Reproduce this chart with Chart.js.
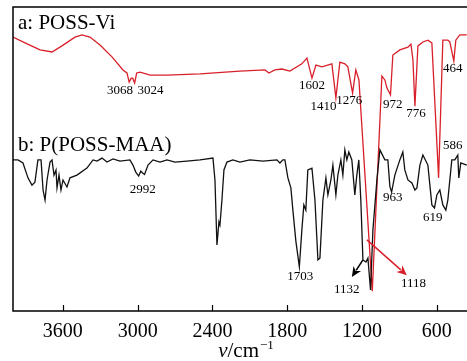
<!DOCTYPE html>
<html>
<head>
<meta charset="utf-8">
<script src="https://cdn.jsdelivr.net/npm/chart.js@4.4.1/dist/chart.umd.min.js"></script>
<style>
  html, body { margin: 0; padding: 0; background: #fff; overflow: hidden; }
  #wrap { position: relative; width: 478px; height: 361px; }
</style>
</head>
<body>
<div id="wrap"><canvas id="ftir"></canvas></div>
<script>
// a: POSS-Vi (red) — wavenumber (cm-1) / transmittance (a.u.)
const vinylWave = [4000, 3904, 3783, 3687, 3607, 3503, 3447, 3383, 3302, 3206, 3118, 3086, 3068, 3052, 3040, 3024, 3008, 2980,
  2900, 2765, 2500, 2180, 1979, 1947, 1899, 1843, 1779, 1683, 1642, 1602, 1570, 1522, 1442, 1410, 1378, 1338, 1314, 1276,
  1250, 1225, 1118, 1041, 1017, 1001, 972, 953, 897, 832, 808, 792, 776, 752, 712, 672, 640, 586, 552, 512, 496, 464, 448, 416, 360];
const vinylT = [90.1, 88.2, 85.9, 85.2, 87.2, 90.1, 90.8, 90.1, 87.5, 83.6, 79.3, 78.3, 75.3, 76.6, 76.6, 75.0, 78.3, 78.6,
  77.6, 77.6, 78.0, 78.9, 79.3, 78.3, 79.3, 79.6, 78.9, 81.3, 83.2, 76.6, 80.9, 80.3, 81.3, 70.1, 81.9, 81.3, 80.3, 71.7,
  79.3, 76.0, 6.5, 77.3, 76.0, 73.4, 71.1, 84.2, 85.9, 86.8, 87.8, 82.6, 67.4, 87.2, 88.5, 89.1, 88.2, 43.8, 89.1, 89.1, 88.5, 82.2, 89.1, 90.8, 90.8];

// b: P(POSS-MAA) (black)
const polyWave = [4000, 3960, 3920, 3880, 3848, 3824, 3800, 3775, 3759, 3743, 3727, 3703, 3687, 3671, 3655, 3647, 3631, 3615,
  3599, 3567, 3543, 3487, 3407, 3358, 3326, 3286, 3246, 3198, 3142, 3062, 3038, 3015, 2992, 2975, 2960, 2945, 2917, 2877,
  2821, 2765, 2701, 2605, 2500, 2396, 2380, 2364, 2348, 2340, 2324, 2308, 2284, 2236, 2180, 2100, 1995, 1883, 1859, 1835,
  1819, 1795, 1771, 1755, 1731, 1703, 1683, 1667, 1651, 1635, 1602, 1578, 1554, 1538, 1514, 1490, 1474, 1450, 1434, 1410,
  1394, 1370, 1354, 1338, 1322, 1306, 1282, 1258, 1242, 1226, 1210, 1193, 1169, 1153, 1132, 1113, 1081, 1057, 1017, 993,
  977, 963, 937, 897, 873, 857, 832, 800, 776, 760, 736, 712, 672, 640, 619, 600, 576, 552, 528, 512, 480, 456, 432, 424, 408, 360];
const polyT = [49.7, 49.7, 48.7, 43.8, 41.4, 42.4, 49.7, 49.7, 39.8, 36.5, 43.1, 49.0, 49.7, 44.7, 46.4, 40.5, 44.7, 39.8,
  43.1, 40.8, 43.8, 44.7, 47.0, 49.7, 49.3, 50.3, 49.0, 50.0, 49.3, 49.7, 48.0, 45.7, 44.4, 46.0, 45.4, 44.9, 48.0, 49.7,
  49.0, 49.7, 49.0, 49.3, 49.7, 50.3, 43.1, 21.7, 29.3, 28.3, 36.5, 46.4, 49.0, 49.7, 49.0, 49.7, 49.3, 49.7, 48.7, 49.7,
  49.7, 43.8, 40.5, 33.2, 23.0, 14.5, 26.6, 34.9, 33.2, 46.4, 47.0, 36.5, 16.8, 17.4, 36.5, 43.8, 38.2, 43.1, 48.0, 38.2,
  44.7, 49.7, 44.7, 53.0, 49.7, 52.3, 49.7, 38.2, 44.7, 49.7, 36.5, 16.8, 16.1, 17.4, 6.9, 26.6, 43.1, 53.0, 49.7, 49.7,
  41.0, 39.1, 44.7, 49.7, 52.3, 46.4, 43.1, 42.1, 39.8, 40.5, 48.0, 51.3, 48.0, 34.9, 33.9, 38.2, 39.8, 34.9, 33.2, 36.5, 49.7, 49.7, 51.3, 43.8, 48.7, 48.0];

const xTicks = [3600, 3000, 2400, 1800, 1200, 600];

// peak labels and where they sit (wavenumber, transmittance)
const vinylPeaks = ['3068', '3024', '1602', '1410', '1276', '972', '776', '464', '586'];
const vinylPeakSpots = [[3142, 72.5], [2897, 72.5], [1602, 74.3], [1510, 67.1], [1302, 69.1], [953, 67.8], [768, 64.8], [472, 79.9], [472, 54.3]];
const polyPeaks = ['2992', '1703', '1132', '1118', '963', '619'];
const polyPeakSpots = [[2960, 40.0], [1695, 11.2], [1322, 7.2], [788, 8.9], [953, 37.2], [632, 30.6]];

const RED = '#d9202a';
const SERIF = '"Liberation Serif", "Times New Roman", serif';

function toPoints(xs, ys) {
  return xs.map((x, i) => ({ x: x, y: ys[i] }));
}

// frame, inward ticks, text annotations, arrows and axis title
const decorations = {
  id: 'decorations',
  afterDraw(chart) {
    const { ctx, chartArea: a, scales: { x, y } } = chart;
    ctx.save();
    ctx.strokeStyle = '#000';
    ctx.lineWidth = 1.5;
    ctx.beginPath();
    ctx.moveTo(a.right, a.top);
    ctx.lineTo(a.left, a.top);
    ctx.lineTo(a.left, a.bottom);
    ctx.lineTo(a.right, a.bottom);
    ctx.stroke();

    ctx.lineWidth = 1.2;
    xTicks.forEach(t => {
      const px = Math.round(x.getPixelForValue(t)) + 0.5;
      ctx.beginPath();
      ctx.moveTo(px, a.bottom);
      ctx.lineTo(px, a.bottom - 6);
      ctx.stroke();
    });

    ctx.fillStyle = '#000';
    ctx.textAlign = 'left';
    ctx.textBaseline = 'alphabetic';
    ctx.font = '21px ' + SERIF;
    ctx.fillText('a: POSS-Vi', a.left + 5, y.getPixelForValue(92.8));
    ctx.fillText('b: P(POSS-MAA)', a.left + 5, y.getPixelForValue(52.6));

    ctx.font = '13px ' + SERIF;
    ctx.textAlign = 'center';
    ctx.textBaseline = 'middle';
    vinylPeaks.forEach((txt, i) => {
      const s = vinylPeakSpots[i];
      ctx.fillText(txt, x.getPixelForValue(s[0]), y.getPixelForValue(s[1]));
    });
    polyPeaks.forEach((txt, i) => {
      const s = polyPeakSpots[i];
      ctx.fillText(txt, x.getPixelForValue(s[0]), y.getPixelForValue(s[1]));
    });

    const arrow = (from, to, color) => {
      const x0 = x.getPixelForValue(from[0]), y0 = y.getPixelForValue(from[1]);
      const x1 = x.getPixelForValue(to[0]), y1 = y.getPixelForValue(to[1]);
      const ang = Math.atan2(y1 - y0, x1 - x0);
      const len = 10, half = 4.5;
      ctx.strokeStyle = color;
      ctx.fillStyle = color;
      ctx.lineWidth = 1.5;
      ctx.beginPath();
      ctx.moveTo(x0, y0);
      ctx.lineTo(x1 - Math.cos(ang) * len * 0.8, y1 - Math.sin(ang) * len * 0.8);
      ctx.stroke();
      ctx.beginPath();
      ctx.moveTo(x1, y1);
      ctx.lineTo(x1 - Math.cos(ang) * len - Math.sin(ang) * half, y1 - Math.sin(ang) * len + Math.cos(ang) * half);
      ctx.lineTo(x1 - Math.cos(ang) * len * 0.7, y1 - Math.sin(ang) * len * 0.7);
      ctx.lineTo(x1 - Math.cos(ang) * len + Math.sin(ang) * half, y1 - Math.sin(ang) * len - Math.cos(ang) * half);
      ctx.closePath();
      ctx.fill();
    };
    arrow([1193, 16.8], [1282, 11.2], '#000');
    arrow([1161, 23.4], [841, 11.8], RED);

    // axis title: italic nu, "/cm" and superscript -1
    ctx.fillStyle = '#000';
    ctx.textAlign = 'left';
    ctx.textBaseline = 'alphabetic';
    const nu = 'ν', unit = '/cm', sup = '−1';
    ctx.font = 'italic 21px ' + SERIF;
    const wNu = ctx.measureText(nu).width;
    ctx.font = '21px ' + SERIF;
    const wUnit = ctx.measureText(unit).width;
    ctx.font = '13px ' + SERIF;
    const wSup = ctx.measureText(sup).width;
    const cx = (a.left + a.right) / 2;
    let tx = cx - (wNu + wUnit + wSup) / 2;
    const base = 357;
    ctx.font = 'italic 21px ' + SERIF;
    ctx.fillText(nu, tx, base);
    tx += wNu;
    ctx.font = '21px ' + SERIF;
    ctx.fillText(unit, tx, base);
    tx += wUnit;
    ctx.font = '13px ' + SERIF;
    ctx.fillText(sup, tx + 1, base - 8);
    ctx.restore();
  }
};

new Chart(document.getElementById('ftir').getContext('2d'), {
  type: 'line',
  data: {
    datasets: [{
      label: 'P(POSS-MAA)',
      data: toPoints(polyWave, polyT),
      borderColor: '#111',
      borderWidth: 1.3,
      pointRadius: 0,
      tension: 0
    }, {
      label: 'POSS-Vi',
      data: toPoints(vinylWave, vinylT),
      borderColor: RED,
      borderWidth: 1.3,
      pointRadius: 0,
      tension: 0
    }]
  },
  options: {
    responsive: true,
    maintainAspectRatio: false,
    animation: false,
    layout: { padding: { top: 7, left: 13, right: 0, bottom: 0 } },
    plugins: { legend: { display: false }, tooltip: { enabled: false } },
    scales: {
      x: {
        type: 'linear',
        reverse: true,
        min: 270,
        max: 4000,
        afterBuildTicks: s => { s.ticks = xTicks.map(v => ({ value: v })); },
        afterFit: s => { s.height = 50; },
        grid: { display: false, drawTicks: false },
        border: { display: false },
        ticks: {
          color: '#000',
          font: { family: SERIF, size: 20 },
          padding: 9,
          maxRotation: 0,
          callback: v => String(v)
        }
      },
      y: { display: false, min: 0, max: 100 }
    }
  },
  plugins: [decorations]
});
</script>
</body>
</html>
